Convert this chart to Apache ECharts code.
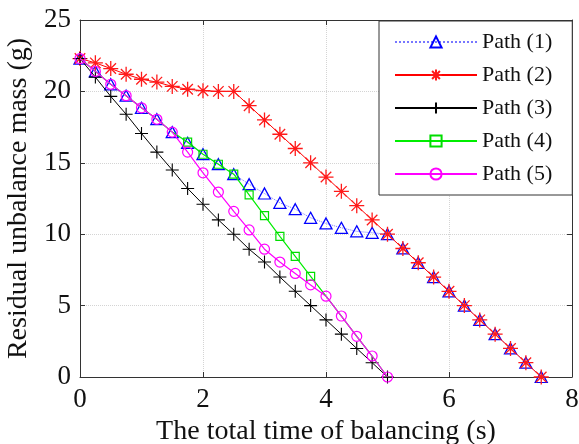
<!DOCTYPE html>
<html>
<head>
<meta charset="utf-8">
<script src="https://cdn.jsdelivr.net/npm/echarts@6/dist/echarts.min.js"></script>
<style>
html,body{margin:0;padding:0;background:#fff;}
#chart{width:579px;height:444px;}
</style>
</head>
<body>
<div id="chart"></div>
<script>
// ---- data ----
const times = [0,0.25,0.5,0.75,1,1.25,1.5,1.75,2,2.25,2.5,2.75,3,3.25,3.5,3.75,4,4.25,4.5,4.75,5,5.25,5.5,5.75,6,6.25,6.5,6.75,7,7.25,7.5];
const seriesNames = ['Path (1)','Path (2)','Path (3)','Path (4)','Path (5)'];
const path1 = [22.3,21.4,20.5,19.7,18.85,18.05,17.15,16.4,15.6,14.9,14.2,13.5,12.85,12.2,11.75,11.15,10.75,10.45,10.2,10.1,10.0,9,8,7,6,5,4,3,2,1,0];
const path2 = [22.3,22.0,21.6,21.2,20.85,20.65,20.35,20.15,20.05,20.0,20.0,19,18,17,16,15,14,13,12,11,10,9,8,7,6,5,4,3,2,1,0];
const path3 = [22.3,21.0,19.65,18.4,17.05,15.75,14.5,13.2,12.1,11.0,10.0,8.95,8.05,7.0,6.0,5.0,4.0,3.0,2.0,1.0,0];
const path4 = [22.3,21.4,20.5,19.7,18.85,18.05,17.15,16.45,15.6,14.9,14.2,12.75,11.3,9.85,8.45,7.05,5.66,4.27,2.85,1.47,0];
const path5 = [22.3,21.4,20.5,19.7,18.85,18.05,17.15,15.75,14.3,12.95,11.6,10.3,8.95,8.05,7.25,6.45,5.66,4.27,2.85,1.47,0];
const xTicks = {min:0, max:8, interval:2};
const yTicks = {min:0, max:25, interval:5};
const path4Visible = [7, 15]; // index range where Path (4) markers are visible

function pairs(vals){ return vals.map((v,i)=>[times[i], v]); }

const FONT = '"Liberation Serif","Times New Roman",serif';
const asterisk = 'path://M10,0L10,20M0,10L20,10M3,3L17,17M3,17L17,3';
const plus = 'path://M10,0L10,20M0,10L20,10';

const path4Data = path4.map((v,i)=>{
  const d = {value:[times[i], v]};
  if (i < path4Visible[0] || i > path4Visible[1]) d.symbol = 'none';
  return d;
});

const chart = echarts.init(document.getElementById('chart'), null, {renderer:'canvas'});
const axisCommon = {
  axisLine:{show:true, onZero:false, lineStyle:{color:'#333', width:1}},
  axisTick:{show:true, inside:true, length:5, lineStyle:{color:'#333'}},
};
chart.setOption({
  animation:false,
  backgroundColor:'#fff',
  grid:{left:80, right:7, top:20, bottom:67, containLabel:false, outerBoundsMode:'none'},
  legend:{
    orient:'vertical', left:379, top:21,
    padding:[10,20,10,15],
    itemWidth:82, itemHeight:14, itemGap:11,
    backgroundColor:'#fff', borderColor:'#333', borderWidth:1,
    textStyle:{fontFamily:FONT, fontSize:22, color:'#111', lineHeight:22},
    data:seriesNames
  },
  xAxis:[
    Object.assign({type:'value', position:'bottom', min:xTicks.min, max:xTicks.max, interval:xTicks.interval,
      name:'The total time of balancing (s)', nameLocation:'middle', nameGap:41,
      nameTextStyle:{fontFamily:FONT, fontSize:28, color:'#111'},
      axisLabel:{fontFamily:FONT, fontSize:27, color:'#111', margin:9},
      splitLine:{show:true, lineStyle:{color:'#d4d4d4', type:'dotted'}}}, axisCommon),
    Object.assign({type:'value', position:'top', min:xTicks.min, max:xTicks.max, interval:xTicks.interval,
      axisLabel:{show:false}, splitLine:{show:false}}, axisCommon)
  ],
  yAxis:[
    Object.assign({type:'value', position:'left', min:yTicks.min, max:yTicks.max, interval:yTicks.interval,
      name:'Residual unbalance mass (g)', nameLocation:'middle', nameGap:44,
      nameTextStyle:{fontFamily:FONT, fontSize:28, color:'#111'},
      axisLabel:{fontFamily:FONT, fontSize:27, color:'#111', margin:9},
      splitLine:{show:true, lineStyle:{color:'#d4d4d4', type:'dotted'}}}, axisCommon),
    Object.assign({type:'value', position:'right', min:yTicks.min, max:yTicks.max, interval:yTicks.interval,
      axisLabel:{show:false}, splitLine:{show:false}}, axisCommon)
  ],
  series:[
    {name:seriesNames[0], type:'line', data:pairs(path1), symbol:'triangle', symbolSize:[12,11],
      lineStyle:{color:'#7777ff', width:1, type:'dotted'},
      itemStyle:{color:'rgba(0,0,0,0)', borderColor:'#0000ff', borderWidth:1.3}, z:2},
    {name:seriesNames[1], type:'line', data:pairs(path2), symbol:asterisk, symbolSize:15,
      lineStyle:{color:'#ff0000', width:1},
      itemStyle:{color:'rgba(0,0,0,0)', borderColor:'#ff1a1a', borderWidth:1.3}, z:3},
    {name:seriesNames[2], type:'line', data:pairs(path3), symbol:plus, symbolSize:13,
      lineStyle:{color:'#000', width:1},
      itemStyle:{color:'rgba(0,0,0,0)', borderColor:'#000', borderWidth:1.1}, z:4},
    {name:seriesNames[3], type:'line', data:path4Data, symbol:'rect', symbolSize:8,
      lineStyle:{color:'#00ee00', width:1.2},
      itemStyle:{color:'rgba(0,0,0,0)', borderColor:'#00dd00', borderWidth:1.2}, z:5},
    {name:seriesNames[4], type:'line', data:pairs(path5), symbol:'circle', symbolSize:10,
      lineStyle:{color:'#ff00ff', width:1.2},
      itemStyle:{color:'rgba(0,0,0,0)', borderColor:'#ff00ff', borderWidth:1.2}, z:6}
  ]
});
</script>
</body>
</html>
